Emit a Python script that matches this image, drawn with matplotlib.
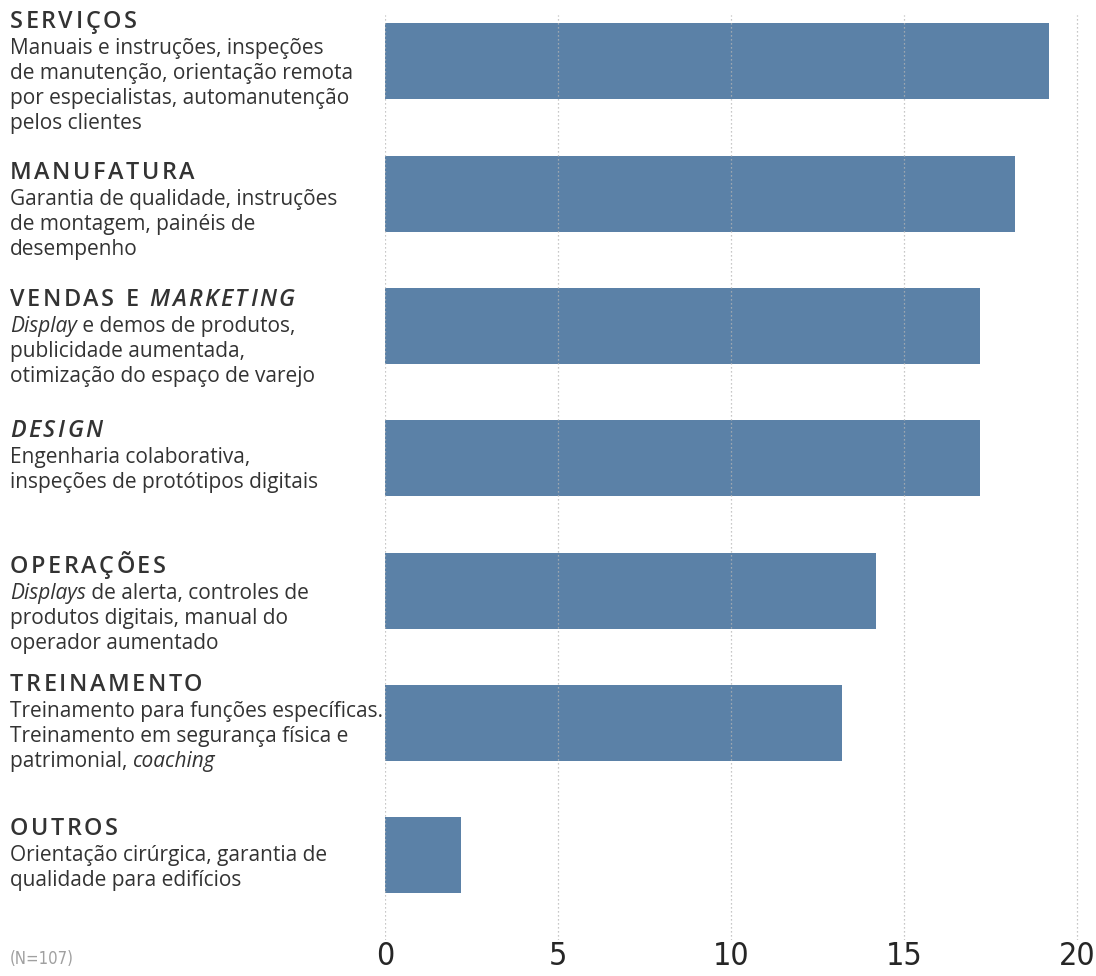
import re
import matplotlib
matplotlib.use('Agg')
import matplotlib.pyplot as plt
from matplotlib.transforms import IdentityTransform

# data
categories = ['SERVIÇOS', 'MANUFATURA', 'VENDAS E *MARKETING*', '*DESIGN*',
              'OPERAÇÕES', 'TREINAMENTO', 'OUTROS']
descriptions = [
    ['Manuais e instruções, inspeções', 'de manutenção, orientação remota',
     'por especialistas, automanutenção', 'pelos clientes'],
    ['Garantia de qualidade, instruções', 'de montagem, painéis de', 'desempenho'],
    ['*Display* e demos de produtos,', 'publicidade aumentada,',
     'otimização do espaço de varejo'],
    ['Engenharia colaborativa,', 'inspeções de protótipos digitais'],
    ['*Displays* de alerta, controles de', 'produtos digitais, manual do',
     'operador aumentado'],
    ['Treinamento para funções específicas.', 'Treinamento em segurança física e',
     'patrimonial, *coaching*'],
    ['Orientação cirúrgica, garantia de', 'qualidade para edifícios'],
]
values = [19.2, 18.2, 17.2, 17.2, 14.2, 13.2, 2.2]
xticks = [0, 5, 10, 15, 20]
note = '(N=107)'

# layout: title baseline offset (px) above each bar centre
title_shift = [33, 15, 20, 21, 18, 32, 20]

bar_color = '#5b81a7'
text_color = '#333333'
W, H = 1096, 976

fig = plt.figure(figsize=(W / 100, H / 100), dpi=100)
# axes from x=385..1077 px (0..20), y=15..940 px
ax = fig.add_axes([385 / W, 1 - 940 / H, (1077 - 385) / W * 20.4 / 20, (940 - 15) / H])
pos = list(range(len(values)))
ax.barh(pos, values, height=0.575, color=bar_color, zorder=2)
ax.set_xlim(0, 20.4)
ax.set_ylim(6.64, -0.35)
ax.set_yticks([])
ax.set_xticks(xticks)
ax.set_xticklabels([str(t) for t in xticks], family='DejaVu Sans',
                   fontstretch='condensed', fontsize=23, color='#262626')
ax.tick_params(axis='x', length=0, pad=1)
for s in ax.spines.values():
    s.set_visible(False)
for t in xticks:
    ax.axvline(t, color='#b5b5b5', lw=0.9, ls=(0, (1, 2.2)), zorder=3)

fig.text(10 / W, 1 - 964 / H, note, family='DejaVu Sans', fontstretch='condensed',
         fontsize=12, color='#a0a0a0', va='baseline')

renderer = fig.canvas.get_renderer()


def draw_line(x, y, line, size, weight, tracking=0.0):
    # split "*italic*" markup into segments
    for k, seg in enumerate(re.split(r'\*', line)):
        if not seg:
            continue
        pieces = list(seg) if tracking else [seg]
        for p in pieces:
            t = fig.text(x, y, p, transform=IdentityTransform(), fontsize=size,
                         weight=weight, style='italic' if k % 2 else 'normal',
                         family='Open Sans', color=text_color, va='baseline')
            x += t.get_window_extent(renderer).width + tracking


for i, (cat, desc) in enumerate(zip(categories, descriptions)):
    cy = ax.transData.transform((0, i))[1]
    y = cy + title_shift[i]
    draw_line(10, y, cat, 16.8, 'semibold', tracking=2.5)
    y -= 26
    for line in desc:
        draw_line(10, y, line, 15, 'normal')
        y -= 25

fig.savefig('out.png', dpi=100)
